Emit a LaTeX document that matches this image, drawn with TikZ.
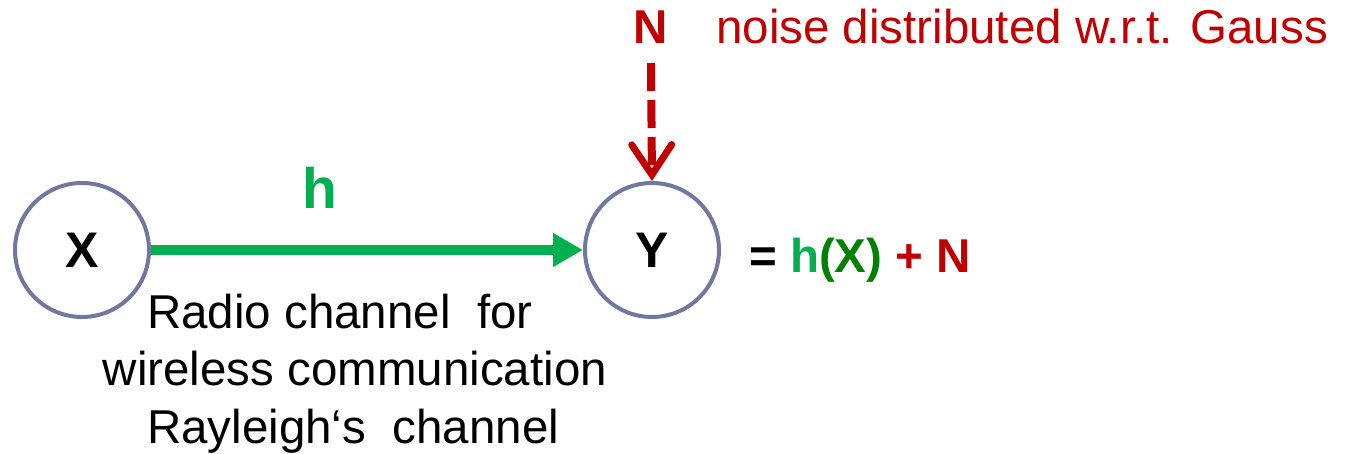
\documentclass[tikz,border=0pt]{standalone}
\usepackage{fontspec}
\setmainfont{Liberation Sans}
\usetikzlibrary{arrows.meta}
\definecolor{ringc}{RGB}{112,120,160}
\definecolor{hgreen}{RGB}{0,176,80}
\definecolor{xgreen}{RGB}{0,128,0}
\definecolor{nred}{RGB}{192,0,0}
\tikzset{
  ring/.style={circle, draw=ringc, line width=4pt, minimum size=134pt, inner sep=0pt,
    font=\fontsize{50}{57}\selectfont\bfseries},
  txt/.style={font=\fontsize{47.5}{57}\selectfont, inner sep=0pt, anchor=base},
  btxt/.style={font=\fontsize{47.5}{57}\selectfont\bfseries, inner sep=0pt, anchor=base},
  chan/.style={draw=hgreen, line width=10pt, -{Triangle[length=30pt,width=32pt]}},
  noisearrow/.style={draw=nred, line width=8pt, dash pattern=on 28pt off 9pt,
    -{Straight Barb[length=30pt,width=40pt,line width=7pt,line cap=round,line join=miter]}},
}
\begin{document}
\begin{tikzpicture}[x=1pt,y=-1pt]
\useasboundingbox (0,0) rectangle (1350,453);
\node[ring] (X) at (82,250) {X};
\node[ring] (Y) at (652,250) {Y};
\draw[chan] (X) -- (Y);
\node[btxt, text=hgreen, font=\fontsize{57}{60}\selectfont\bfseries] (h) at (320,208) {h};
\node[btxt, text=nred] (N) at (651,43) {N};
\coordinate (ns) at (651,63);
\draw[noisearrow] (ns) -- (Y.north);
\node[txt, text=nred, anchor=base west] (noise) at (716,43) {noise distributed w.r.t. Gauss};
\node[btxt, anchor=base west] (eq) at (749,272) {= \textcolor{hgreen}{h}\textcolor{xgreen}{(X)} \textcolor{nred}{+ N}};
\node[txt, anchor=base west] (l1) at (147,328) {Radio channel\ \ for};
\node[txt] (l2) at (355,385) {wireless communication};
\node[txt, anchor=base west] (l3) at (147,443) {Rayleigh‘s\ \ channel};
\end{tikzpicture}
\end{document}
